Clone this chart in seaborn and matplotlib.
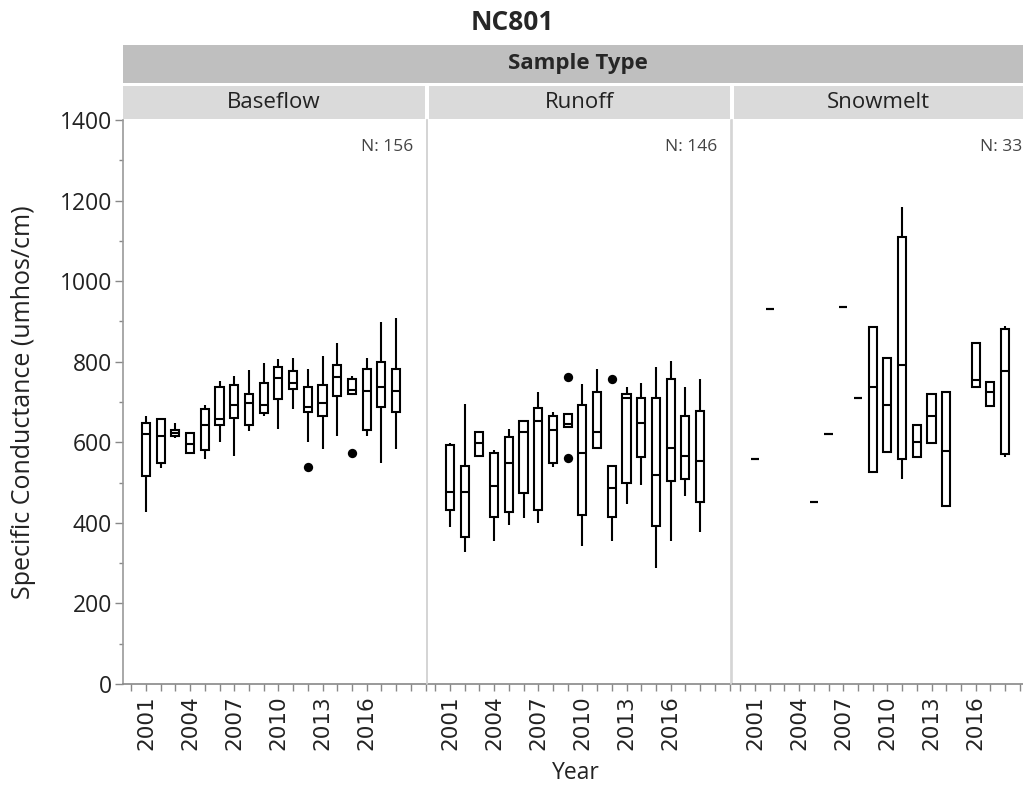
import numpy as np
import pandas as pd
import seaborn as sns
import matplotlib.pyplot as plt
from matplotlib.patches import Rectangle
from matplotlib.ticker import MultipleLocator

# %% --------------------------------------------------------------------
# Data (box summaries per year, umhos/cm)

sample_types = ['Baseflow', 'Runoff', 'Snowmelt']
n_counts = [156, 146, 33]

base_years = list(range(2001, 2019))
base_lo = [428, 535, 610, 570, 558, 601, 566, 629, 665, 633, 683, 601, 583, 616, 720, 616, 548, 583]
base_q1 = [517, 548, 616, 574, 581, 643, 661, 643, 673, 707, 732, 674, 665, 715, 720, 630, 688, 676]
base_med = [620, 616, 622, 596, 643, 659, 692, 697, 692, 760, 748, 687, 698, 761, 730, 728, 738, 728]
base_q3 = [647, 657, 630, 622, 683, 736, 742, 720, 746, 786, 778, 738, 742, 792, 756, 782, 800, 782]
base_hi = [666, 657, 649, 625, 692, 752, 765, 779, 797, 806, 810, 783, 815, 847, 765, 810, 898, 908]
base_out_years = [2012, 2015]
base_out_vals = [538, 573]

run_years = list(range(2001, 2019))
run_lo = [390, 328, 566, 356, 395, 413, 400, 539, 639, 343, 585, 356, 448, 494, 287, 356, 467, 378]
run_q1 = [432, 364, 566, 414, 428, 473, 432, 548, 639, 419, 585, 414, 500, 563, 392, 504, 509, 451]
run_med = [477, 477, 597, 491, 549, 626, 654, 630, 645, 573, 626, 486, 709, 647, 519, 587, 567, 553]
run_q3 = [593, 541, 626, 573, 612, 654, 684, 666, 670, 692, 724, 541, 720, 711, 711, 756, 665, 678]
run_hi = [599, 695, 626, 582, 632, 654, 726, 676, 670, 744, 783, 541, 738, 748, 788, 802, 738, 757]
run_out_years = [2009, 2009, 2012]
run_out_vals = [761, 560, 757]

snow_years = [2001, 2002, 2005, 2006, 2007, 2008, 2009, 2010, 2011, 2012, 2013, 2014, 2016, 2017, 2018]
snow_lo = [558, 931, 451, 620, 936, 711, 527, 575, 508, 563, 597, 443, 738, 691, 563]
snow_q1 = [558, 931, 451, 620, 936, 711, 527, 575, 558, 563, 597, 443, 738, 691, 571]
snow_med = [558, 931, 451, 620, 936, 711, 738, 692, 792, 601, 666, 579, 754, 724, 778]
snow_q3 = [558, 931, 451, 620, 936, 711, 885, 808, 1109, 643, 719, 724, 846, 750, 880]
snow_hi = [558, 931, 451, 620, 936, 711, 885, 808, 1183, 643, 719, 724, 846, 750, 889]
snow_out_years = []
snow_out_vals = []

year_labels = [2001, 2004, 2007, 2010, 2013, 2016]


def five_number_frame(years, lo, q1, med, q3, hi):
    # five points per year -> seaborn's quartiles land exactly on q1/med/q3
    wide = pd.DataFrame({'Year': years, 'lo': lo, 'q1': q1, 'med': med, 'q3': q3, 'hi': hi})
    return wide.melt(id_vars='Year', value_name='Cond')[['Year', 'Cond']]


panels = [
    (five_number_frame(base_years, base_lo, base_q1, base_med, base_q3, base_hi), base_out_years, base_out_vals),
    (five_number_frame(run_years, run_lo, run_q1, run_med, run_q3, run_hi), run_out_years, run_out_vals),
    (five_number_frame(snow_years, snow_lo, snow_q1, snow_med, snow_q3, snow_hi), snow_out_years, snow_out_vals),
]

# %% --------------------------------------------------------------------
# Figure layout (pixel based, 1023 x 789)

sns.set_theme(style="white")
plt.rcParams['font.family'] = ['Open Sans', 'DejaVu Sans']

W, H = 1023, 789
fig = plt.figure(figsize=(W / 100, H / 100), dpi=100)


def fx(px):
    return px / W


def fy(py):
    return 1 - py / H


panel_left = [123, 427, 732]
panel_w = 304
top_px, bot_px = 120, 684

axes = []
for i, (df, oyears, ovals) in enumerate(panels):
    ax = fig.add_axes([fx(panel_left[i]), fy(bot_px), panel_w / W, (bot_px - top_px) / H])
    axes.append(ax)

    sns.boxplot(data=df, x='Year', y='Cond', ax=ax, native_scale=True, whis=np.inf,
                width=0.55, showcaps=False, color='white', linecolor='black',
                linewidth=1.5, fliersize=0)
    if len(oyears):
        sns.scatterplot(x=oyears, y=ovals, ax=ax, color='black', s=45, linewidth=0, legend=False)

    ax.set_xlim(1999.44, 2020.1)
    ax.set_ylim(0, 1400)
    ax.set_xlabel('')
    ax.set_ylabel('')

    ax.set_xticks(year_labels)
    ax.set_xticklabels([str(y) for y in year_labels], rotation=90,
                       fontfamily='DejaVu Sans', fontsize=15.5, color='#222222')
    ax.xaxis.set_minor_locator(MultipleLocator(1))
    ax.tick_params(axis='x', which='both', bottom=True, direction='out', length=5,
                   width=1, color='#888888', pad=3)

    for s in ['top', 'right']:
        ax.spines[s].set_visible(False)
    ax.spines['bottom'].set_color('#888888')
    ax.spines['bottom'].set_linewidth(1.2)

    if i == 0:
        ax.yaxis.set_major_locator(MultipleLocator(200))
        ax.yaxis.set_minor_locator(MultipleLocator(100))
        ax.tick_params(axis='y', which='major', left=True, direction='out', length=6,
                       width=1, color='#888888', labelsize=16.5, labelcolor='#222222', pad=2)
        ax.tick_params(axis='y', which='minor', left=True, direction='out', length=3,
                       width=1, color='#888888')
        ax.spines['left'].set_color('#999999')
    else:
        ax.tick_params(axis='y', which='both', left=False, labelleft=False)
        ax.spines['left'].set_color('#d4d4d4')
    ax.spines['left'].set_linewidth(1.2)

    ax.text(0.954, 0.952, f'N: {n_counts[i]}', transform=ax.transAxes,
            ha='right', va='center', fontsize=12.5, color='#444444')

# right edge divider of the first two panels
for i in range(2):
    fig.add_artist(plt.Line2D([fx(panel_left[i] + panel_w)] * 2, [fy(bot_px), fy(top_px)],
                              color='#d4d4d4', lw=1.2))

# %% --------------------------------------------------------------------
# Header strips

fig.add_artist(Rectangle((fx(123), fy(83)), fx(W) - fx(123), fy(45) - fy(83),
                         transform=fig.transFigure, facecolor='#bfbfbf', edgecolor='none'))
fig.text(fx(578), fy(64), 'Sample Type', ha='center', va='center', fontsize=16, fontweight='bold')

head_right = [425, 730, W]
for i, name in enumerate(sample_types):
    left = panel_left[i] + (0 if i == 0 else 2)
    fig.add_artist(Rectangle((fx(left), fy(119)), fx(head_right[i]) - fx(left), fy(86) - fy(119),
                             transform=fig.transFigure, facecolor='#dadada', edgecolor='none'))
    fig.text(fx((left + head_right[i]) / 2), fy(103), name, ha='center', va='center',
             fontsize=16, color='#222222')

fig.text(fx(512), fy(22), 'NC801', ha='center', va='center', fontsize=19, fontweight='bold')
fig.text(fx(24), fy(402), 'Specific Conductance (umhos/cm)', rotation=90,
         ha='center', va='center', fontsize=18, color='#222222')
fig.text(fx(576), fy(773), 'Year', ha='center', va='center', fontsize=16.5, color='#222222')

fig.savefig('out.png', dpi=100)
